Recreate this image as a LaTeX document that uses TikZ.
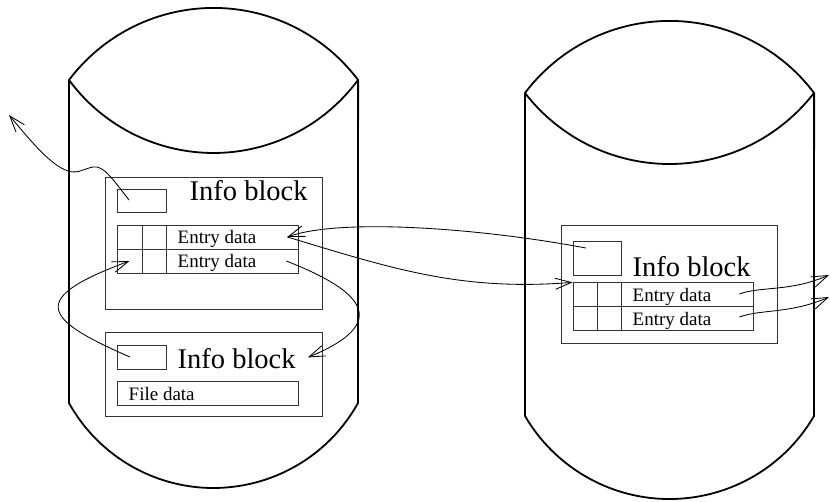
\documentclass[tikz,border=0pt]{standalone}
\usepackage{fontspec}
\setmainfont{Liberation Serif}
\usetikzlibrary{arrows.meta,calc}
\begin{document}
\begin{tikzpicture}[x=1pt,y=-1pt,
  cyl/.style={line width=1.8pt, line join=round},
  blk/.style={draw=black!80, line width=0.7pt, inner sep=0pt, rectangle},
  big/.style={inner sep=0pt, font=\fontsize{28.5}{30}\selectfont, anchor=base west},
  small/.style={inner sep=0pt, font=\fontsize{19}{21}\selectfont, anchor=base west},
  link/.style={line width=0.85pt, -{Straight Barb[length=16pt,width=11pt]}}]
\useasboundingbox (0,0) rectangle (830,501);

% left cylinder
\draw[cyl] (69,403) -- (69,80) arc[start angle=217, end angle=323, radius=181] -- (358,403)
  arc[start angle=29.1, end angle=150.9, radius=165.4];
\draw[cyl] (69,80) arc[start angle=143.6, end angle=36.4, radius=179.5];
% right cylinder
\draw[cyl] (525,416) -- (525,93) arc[start angle=217, end angle=323, radius=181] -- (814,416)
  arc[start angle=30.26, end angle=149.74, radius=167.3];
\draw[cyl] (525,93) arc[start angle=142.34, end angle=37.66, radius=182.5];

% left upper block
\node[blk, minimum width=217pt, minimum height=132pt] (L1) at (213.5,243) {};
\node[blk, minimum width=49pt, minimum height=23pt] (L1s) at (141.5,200.5) {};
\node[big] (L1t) at (189.5,200) {Info block};
\node[blk, minimum width=25pt, minimum height=24pt] (L1r1a) at (129.5,237) {};
\node[blk, minimum width=24pt, minimum height=24pt] (L1r1b) at (154,237) {};
\node[blk, minimum width=132pt, minimum height=24pt] (L1r1c) at (232,237) {};
\node[blk, minimum width=25pt, minimum height=24pt] (L1r2a) at (129.5,261) {};
\node[blk, minimum width=24pt, minimum height=24pt] (L1r2b) at (154,261) {};
\node[blk, minimum width=132pt, minimum height=24pt] (L1r2c) at (232,261) {};
\node[small] (L1e1) at (177.5,243.3) {Entry data};
\node[small] (L1e2) at (177.5,267.3) {Entry data};

% left lower block
\node[blk, minimum width=217pt, minimum height=84pt] (L2) at (213.5,374.7) {};
\node[blk, minimum width=49pt, minimum height=24pt] (L2s) at (141.5,357) {};
\node[big] (L2t) at (177.5,368.3) {Info block};
\node[blk, minimum width=181pt, minimum height=24pt] (L2f) at (207.5,393) {};
\node[small] (L2ft) at (128.5,400) {File data};

% right block
\node[blk, minimum width=216pt, minimum height=118.7pt] (R) at (669.7,284.35) {};
\node[blk, minimum width=48.7pt, minimum height=34pt] (Rs) at (597.35,258.7) {};
\node[big] (Rt) at (632.5,276) {Info block};
\node[blk, minimum width=24.7pt, minimum height=24pt] (R1a) at (585.35,294.7) {};
\node[blk, minimum width=24pt, minimum height=24pt] (R1b) at (609.7,294.7) {};
\node[blk, minimum width=131.3pt, minimum height=24pt] (R1c) at (687.35,294.7) {};
\node[blk, minimum width=24.7pt, minimum height=24pt] (R2a) at (585.35,318.7) {};
\node[blk, minimum width=24pt, minimum height=24pt] (R2b) at (609.7,318.7) {};
\node[blk, minimum width=131.3pt, minimum height=24pt] (R2c) at (687.35,318.7) {};
\node[small] (Re1) at (632.5,301.7) {Entry data};
\node[small] (Re2) at (632.5,325.7) {Entry data};

% free ends
\coordinate (t1) at (9,115);
\coordinate (t6) at (829,275);
\coordinate (t7) at (829,297);

% connectors
\draw[link] ($(L1s.center)+(-12.5,-0.5)$) .. controls +(-17,-22) and +(10,-2) .. (93,167)
  .. controls +(-10,2) and +(10,3) .. (68,171) .. controls +(-18,-6) and +(21,25) .. (t1);
\draw[link] ($(Rs.center)+(-11.5,-10.7)$) .. controls +(-106,-20) and +(53,-19) .. ($(L1r1c.east)+(-11,0)$);
\draw[link] ($(L1r1c.east)+(-11,0)$) .. controls +(103,31) and +(-113,9) .. (R1a.north west);
\draw[link] ($(L1r2c.east)+(-12,0)$) .. controls +(61,24) and +(95,-39) .. ($(L2t.east)+(12,-1)$);
\draw[link] ($(L2s.center)+(-11.5,0)$) .. controls +(-90,-39) and +(-100,37) .. (L1r2a.center);
\draw[link] ($(R1c.east)+(-14,-0.7)$) .. controls +(22,-8) and +(-39,17) .. (t6);
\draw[link] ($(R2c.east)+(-14,-1.7)$) .. controls +(22,-8) and +(-39,17) .. (t7);
\end{tikzpicture}
\end{document}
